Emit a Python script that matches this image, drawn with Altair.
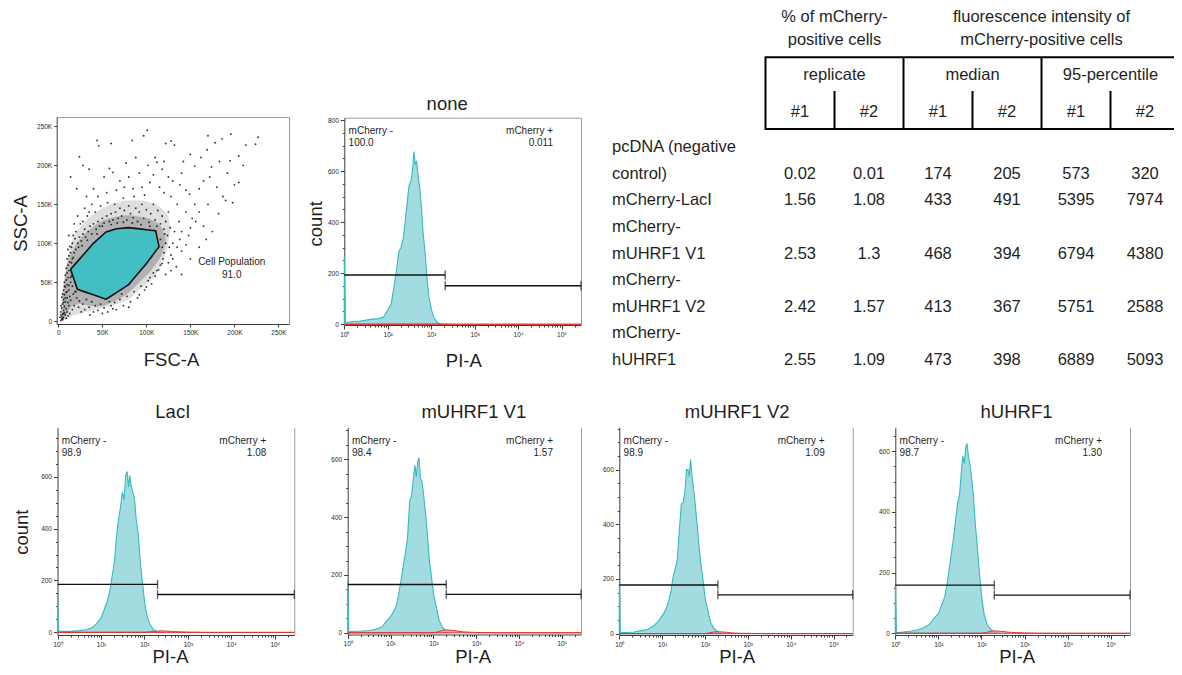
import altair as alt
import pandas as pd

FONT = "Liberation Sans"
INK = "#1f1f1f"
AXC = "#3c3c3c"
FRAME = "#9a9a9a"
CYAN_DOT = "#43bec3"
CYAN_FILL = "#a2dce0"
CYAN_LINE = "#36bac2"
RED_LINE = "#e3342f"
RED_FILL = "#f2a3a3"
W, H, M = 1166, 659, 8

# ======================= DATA =======================
# --- scatter: FSC-A / SSC-A (in thousands) ---
gate_name = "Cell Population"
gate_pct = "91.0"
gate_fsc = [14, 21.6, 30, 39.8, 54.2, 66, 79.5, 90, 100.4, 110.6, 114.4]
gate_lo = [66.7, 41, 37.7, 33.9, 28.2, 36.8, 46.6, 60.6, 74.4, 90, 95.7]
gate_hi = [66.7, 76.5, 87.3, 100, 114.5, 118.6, 120.1, 118.8, 117.4, 116.2, 95.7]

halo_fsc = [3, 8, 12, 16, 25, 36, 47, 62, 78, 93, 108, 119, 125, 127]
halo_lo = [1.5, 2, 4, 7, 10, 13.5, 16.5, 20.5, 27, 41, 57, 78, 100, 115]
halo_hi = [28, 63, 89, 105, 121, 134, 143, 151, 155, 155, 151, 143, 134, 120]

core_fsc = [5, 10, 16, 25, 36, 47, 62, 78, 93, 108, 118, 122]
core_lo = [3, 10, 20, 22, 20, 19, 25, 35, 51, 69, 87, 100]
core_hi = [30, 72, 90, 106, 118, 127, 133, 136, 134, 129, 119, 106]

dots_left = [(3, 1), (4, 3), (5, 2), (4, 6), (6, 5), (5, 9), (3, 12), (6, 14), (4, 17), (7, 19), (5, 22), (8, 25),
             (6, 28), (4, 31), (7, 34), (9, 37), (6, 40), (8, 44), (10, 47), (7, 50), (9, 53), (11, 56), (8, 59),
             (10, 62), (12, 65), (9, 68), (11, 72), (13, 76), (10, 80), (12, 84), (14, 88), (11, 92), (13, 96),
             (16, 100), (6, 10), (8, 8), (10, 12), (12, 20), (10, 30), (12, 40), (14, 50), (15, 58), (13, 32),
             (16, 45), (2, 5), (3, 20), (5, 35), (7, 45), (9, 4), (11, 7), (13, 10), (16, 15), (18, 20), (14, 27),
             (17, 35), (19, 38), (5, 4), (7, 11), (9, 16), (11, 24), (3, 8), (6, 24), (8, 30), (10, 38), (12, 46),
             (14, 56), (16, 62), (18, 70), (15, 75), (17, 82)]
dots_below = [(21, 30), (24, 26), (28, 22), (32, 28), (35, 18), (38, 25), (42, 20), (45, 14), (48, 22), (52, 17),
              (56, 12), (60, 20), (64, 24), (66, 15), (70, 28), (74, 20), (78, 32), (82, 25), (86, 38), (90, 30),
              (94, 45), (98, 40), (102, 52), (106, 48), (20, 38), (23, 18), (30, 15), (40, 12), (58, 25), (72, 35),
              (26, 12), (36, 8), (50, 10), (62, 16), (80, 18), (92, 34), (100, 44), (110, 58), (114, 66), (118, 74)]
dots_above = [(16, 80), (18, 88), (15, 95), (20, 92), (22, 100), (19, 106), (24, 108), (26, 103), (28, 112),
              (31, 108), (30, 118), (34, 115), (36, 122), (38, 112), (40, 125), (43, 118), (45, 128), (47, 122),
              (50, 132), (52, 126), (55, 135), (58, 128), (60, 138), (62, 130), (65, 140), (68, 132), (70, 145),
              (72, 135), (75, 142), (78, 130), (80, 148), (82, 138), (85, 133), (88, 145), (90, 128), (92, 140),
              (95, 150), (97, 132), (100, 143), (103, 127), (105, 138), (108, 150), (110, 130), (113, 142),
              (116, 125), (118, 135), (120, 118), (122, 128), (125, 140), (28, 128), (33, 135), (42, 140),
              (48, 148), (56, 152), (64, 150), (74, 158), (86, 160), (98, 162), (35, 140), (25, 125), (20, 115),
              (17, 110), (23, 95), (27, 97), (33, 104), (44, 112), (50, 122), (60, 124), (67, 126), (74, 127),
              (84, 126), (94, 124), (104, 122), (112, 122)]
dots_right = [(116, 105), (118, 95), (120, 88), (122, 100), (124, 110), (126, 95), (128, 85), (119, 80), (116, 72),
              (112, 65), (108, 62), (104, 56), (125, 75), (130, 100), (132, 115), (135, 95), (127, 120), (121, 112),
              (130, 80), (134, 70), (138, 105), (140, 90), (128, 65), (122, 60)]
dots_outer = [(227, 236), (224, 227), (213, 226), (196, 240), (186, 234), (170, 238), (178, 229), (169, 220),
              (205, 212), (195, 206), (174, 198), (165, 180), (155, 199), (150, 214), (132, 226), (128, 231),
              (122, 228), (101, 245), (97, 238), (84, 232), (60, 228), (44, 232), (46, 225), (24, 211), (28, 200),
              (14, 185), (21, 170), (35, 195), (52, 185), (58, 196), (62, 191), (77, 203), (88, 210), (92, 190),
              (102, 200), (110, 210), (112, 204), (118, 195), (125, 185), (130, 180), (138, 175), (145, 168),
              (142, 205), (149, 163), (160, 170), (172, 185), (180, 172), (190, 155), (182, 138), (170, 150),
              (160, 140), (156, 128), (148, 110), (145, 98), (152, 132), (165, 122), (175, 115), (187, 160),
              (200, 175), (210, 200), (137, 128), (135, 150), (128, 160), (120, 165), (115, 172), (104, 178),
              (95, 172), (85, 170), (75, 172), (66, 168), (55, 165), (45, 160), (38, 150), (30, 145), (22, 135),
              (18, 125), (12, 110), (140, 60), (150, 80), (160, 95), (168, 105), (155, 150), (145, 140), (198, 152),
              (205, 178), (192, 190), (183, 205), (162, 210), (140, 190), (120, 205), (108, 188), (80, 185),
              (70, 180), (40, 170), (32, 160), (140, 115), (150, 120)]
all_dots = dots_left + dots_below + dots_above + dots_right + dots_outer
dot_fsc = [p[0] for p in all_dots]
dot_ssc = [p[1] for p in all_dots]

# --- PI-A histograms ---
panel_titles = ["none", "LacI", "mUHRF1 V1", "mUHRF1 V2", "hUHRF1"]
pi_grid = [1.0, 1.06, 1.5, 2.2, 3.2, 4.5, 6.3, 8, 10, 12, 14, 16, 18, 20, 22.5, 25, 28, 31, 34, 37, 40, 43, 46,
           50, 54, 59, 65, 72, 80, 90, 102, 116, 135, 160, 200, 260]
counts_none = [265, 8, 10, 12, 16, 20, 22, 28, 55, 80, 150, 215, 285, 300, 330, 400, 478, 545, 560, 600, 677,
               625, 640, 580, 540, 470, 360, 285, 180, 100, 55, 25, 8, 2, 0, 0]
counts_laci = [140, 5, 4, 5, 7, 10, 18, 35, 55, 90, 120, 160, 215, 260, 360, 430, 480, 540, 510, 605, 620, 560,
               605, 560, 540, 515, 430, 380, 275, 190, 110, 60, 30, 10, 3, 0]
counts_v1 = [182, 3, 5, 6, 8, 12, 20, 40, 55, 75, 100, 145, 190, 235, 280, 330, 455, 475, 530, 580, 540, 592,
             606, 534, 525, 480, 420, 345, 255, 195, 130, 92, 45, 20, 6, 0]
counts_v2 = [183, 4, 4, 6, 11, 15, 28, 44, 65, 85, 115, 155, 207, 235, 270, 370, 474, 480, 520, 600, 600, 575,
             638, 575, 530, 475, 405, 325, 255, 195, 125, 85, 42, 20, 6, 0]
counts_hu = [154, 2, 4, 7, 11, 18, 30, 50, 65, 95, 120, 165, 215, 265, 315, 370, 430, 458, 530, 585, 560, 610,
             626, 582, 555, 515, 450, 360, 285, 195, 115, 60, 30, 14, 4, 0]
counts = [counts_none, counts_laci, counts_v1, counts_v2, counts_hu]

red_grid = [1, 100, 130, 160, 200, 250, 320, 400, 500, 700, 1000, 3000, 10000, 100000, 280000]
red_none = [0, 0, 0, 0, 0, 0, 0, 0, 0, 0, 0, 0, 0, 0, 0]
red_laci = [0, 0, 2, 4, 5, 6, 5, 4, 3, 2, 1, 0, 0, 0, 0]
red_v1 = [0, 0, 3, 8, 10, 9, 7, 5, 3, 2, 1, 0, 0, 0, 0]
red_v2 = [0, 0, 3, 6, 7, 6, 5, 3, 2, 1, 1, 0, 0, 0, 0]
red_hu = [0, 0, 3, 6, 8, 7, 6, 4, 3, 2, 1, 0, 0, 0, 0]
red_counts = [red_none, red_laci, red_v1, red_v2, red_hu]

gate_names = ["mCherry -", "mCherry +"]
neg_pct = ["100.0", "98.9", "98.4", "98.9", "98.7"]
pos_pct = ["0.011", "1.08", "1.57", "1.09", "1.30"]
gate_split = [210, 200, 200, 200, 198]
neg_level = [193, 185, 167, 178, 159]
pos_level = [151, 146, 133, 142, 126]

# --- table ---
header_groups = ["% of mCherry-\npositive cells", "fluorescence intensity of\nmCherry-positive cells"]
header_group_cols = [(1, 2), (3, 6)]
sub_groups = ["replicate", "median", "95-percentile"]
sub_group_cols = [(1, 2), (3, 4), (5, 6)]
sub_cols = ["#1", "#2", "#1", "#2", "#1", "#2"]
row_labels = ["pcDNA (negative\ncontrol)", "mCherry-LacI", "mCherry-\nmUHRF1 V1", "mCherry-\nmUHRF1 V2",
              "mCherry-\nhUHRF1"]
pct_rep1 = ["0.02", "1.56", "2.53", "2.42", "2.55"]
pct_rep2 = ["0.01", "1.08", "1.3", "1.57", "1.09"]
median_1 = [174, 433, 468, 413, 473]
median_2 = [205, 491, 394, 367, 398]
p95_1 = [573, 5395, 6794, 5751, 6889]
p95_2 = [320, 7974, 4380, 2588, 5093]

# ======================= LAYOUT (page pixels) =======================
SC = dict(x0=56.7, x1=289, yb=324, yt=117, xdom=[-1.8, 262], ydom=[-3.5, 262],
          xtitle=(171, 359), ytitle=(20, 223), label=(197, 82))
BOTTOM_TITLE_Y = 656.0
PANELS = [
    dict(x0=344.3, x1=581.0, yb=325.0, yt=117.7, ymin=-3, ymax=810, top=True,
         title=(446.7, 103.3), xtitle=(463.3, 360), ytitle=(315, 223.3)),
    dict(x0=57.5, x1=294.3, yb=635.0, yt=427.3, ymin=-10, ymax=790, top=False,
         title=(172.3, 411.7), xtitle=(170, BOTTOM_TITLE_Y), ytitle=(21, 531.7)),
    dict(x0=347.7, x1=581.0, yb=634.5, yt=427.3, ymin=-6, ymax=711, top=False,
         title=(473.3, 411.7), xtitle=(472.7, BOTTOM_TITLE_Y), ytitle=None),
    dict(x0=619.3, x1=852.7, yb=635.0, yt=427.3, ymin=-5, ymax=755, top=False,
         title=(736.7, 411.7), xtitle=(736.7, BOTTOM_TITLE_Y), ytitle=None),
    dict(x0=895.3, x1=1130.0, yb=635.0, yt=427.3, ymin=-5.6, ymax=679, top=False,
         title=(1016, 411.7), xtitle=(1016.7, BOTTOM_TITLE_Y), ytitle=None),
]
TITLE_STYLE = dict(titleFontSize=18.5, titleFontWeight="normal", titleColor=INK, titleBaseline="middle",
                   titleAlign="center", titleFont=FONT)
TICK_STYLE = dict(labelFontSize=6.5, labelPadding=2, labelColor=INK, labelFont=FONT, tickColor=AXC,
                  domainColor=AXC, grid=False)

layers = []

# ======================= SCATTER =======================
sx = alt.Scale(domain=SC["xdom"], range=[SC["x0"] - M, SC["x1"] - M], nice=False, zero=False)
sy = alt.Scale(domain=SC["ydom"], range=[SC["yb"] - M, SC["yt"] - M], nice=False, zero=False)
k_ticks = [0, 50, 100, 150, 200, 250]
k_expr = "datum.value == 0 ? '0' : datum.value + 'K'"

halo = alt.Chart(pd.DataFrame({"fsc": halo_fsc, "lo": halo_lo, "hi": halo_hi})).mark_area(
    color="#000000", opacity=0.13, interpolate="monotone").encode(
    x=alt.X("fsc:Q", scale=sx, axis=None), y=alt.Y("lo:Q", scale=sy, axis=None), y2="hi:Q")

core = alt.Chart(pd.DataFrame({"fsc": core_fsc, "lo": core_lo, "hi": core_hi})).mark_area(
    color="#000000", opacity=0.2, interpolate="monotone").encode(
    x=alt.X("fsc:Q", scale=sx, axis=None), y=alt.Y("lo:Q", scale=sy, axis=None), y2="hi:Q")

dots = alt.Chart(pd.DataFrame({"fsc": dot_fsc, "ssc": dot_ssc})).mark_circle(
    size=3.5, color="#111111", opacity=0.85).encode(
    x=alt.X("fsc:Q", scale=sx, axis=alt.Axis(
        orient="bottom", offset=SC["yb"] - M - H, values=k_ticks, labelExpr=k_expr, tickSize=3, labelFlush=False,
        title="FSC-A", titleX=SC["xtitle"][0] - M, titleY=SC["xtitle"][1] - SC["yb"], **TICK_STYLE, **TITLE_STYLE)),
    y=alt.Y("ssc:Q", scale=sy, axis=alt.Axis(
        orient="left", offset=-(SC["x0"] - M), values=k_ticks, labelExpr=k_expr, tickSize=3, labelFlush=False,
        title="SSC-A", titleX=SC["ytitle"][0] - SC["x0"], titleY=SC["ytitle"][1] - M, **TICK_STYLE, **TITLE_STYLE)))

gate = alt.Chart(pd.DataFrame({"fsc": gate_fsc, "lo": gate_lo, "hi": gate_hi})).mark_area(
    fill=CYAN_DOT, fillOpacity=1, stroke="#111111", strokeWidth=1.6, strokeJoin="round").encode(
    x=alt.X("fsc:Q", scale=sx, axis=alt.Axis(orient="top", offset=-(SC["yt"] - M), labels=False, ticks=False,
                                             domainColor=FRAME, grid=False, title=None)),
    y=alt.Y("lo:Q", scale=sy, axis=alt.Axis(orient="right", offset=SC["x1"] - M - W, labels=False, ticks=False,
                                            domainColor=FRAME, grid=False, title=None)),
    y2="hi:Q")

glabel = alt.Chart(pd.DataFrame({"fsc": [SC["label"][0]], "ssc": [SC["label"][1]],
                                 "t": [gate_name + "\n" + gate_pct]})).mark_text(
    align="center", baseline="top", lineBreak="\n", lineHeight=12.3, fontSize=10, font=FONT, color=INK).encode(
    x=alt.X("fsc:Q", scale=sx, axis=None), y=alt.Y("ssc:Q", scale=sy, axis=None), text="t:N")

layers += [halo, core, dots, gate, glabel]

# ======================= HISTOGRAMS =======================
XDOM = [1, 280000]
X_MAJOR = [1, 10, 100, 1000, 10000, 100000]
X_MINOR = [m * 10 ** k for k in range(5) for m in range(2, 10)] + [200000]
SUP = "'10' + ['\u2070','\u00b9','\u00b2','\u00b3','\u2074','\u2075'][round(log(datum.value)/LN10)]"


def hist_layers(i):
    P = PANELS[i]
    xs = alt.Scale(type="log", domain=XDOM, range=[P["x0"] - M, P["x1"] - M], nice=False)
    ys = alt.Scale(domain=[P["ymin"], P["ymax"]], range=[P["yb"] - M, P["yt"] - M], nice=False, zero=False)
    y_major = list(range(0, P["ymax"] + 1, 200))
    y_minor = [v for v in range(50, P["ymax"] + 1, 50) if v % 200]
    xb_off = P["yb"] - M - H
    yl_off = -(P["x0"] - M)

    x_axis = alt.Axis(orient="bottom", offset=xb_off, values=X_MAJOR, labelExpr=SUP, tickSize=4,
                      labelFlush=False, title="PI-A", titleX=P["xtitle"][0] - M,
                      titleY=P["xtitle"][1] - P["yb"], **TICK_STYLE, **TITLE_STYLE)
    if P["ytitle"]:
        y_axis = alt.Axis(orient="left", offset=yl_off, values=y_major, tickSize=4, labelFlush=False,
                          title="count", titleX=P["ytitle"][0] - P["x0"], titleY=P["ytitle"][1] - M,
                          **TICK_STYLE, **TITLE_STYLE)
    else:
        y_axis = alt.Axis(orient="left", offset=yl_off, values=y_major, tickSize=4, labelFlush=False,
                          title=None, **TICK_STYLE)

    area = alt.Chart(pd.DataFrame({"pi": pi_grid, "n": counts[i]})).mark_area(
        fill=CYAN_FILL, fillOpacity=1, stroke=CYAN_LINE, strokeWidth=1.1).encode(
        x=alt.X("pi:Q", scale=xs, axis=x_axis), y=alt.Y("n:Q", scale=ys, axis=y_axis))

    red = alt.Chart(pd.DataFrame({"pi": red_grid, "n": red_counts[i]})).mark_area(
        fill=RED_FILL, fillOpacity=0.8, stroke=RED_LINE, strokeWidth=1).encode(
        x=alt.X("pi:Q", scale=xs, axis=alt.Axis(orient="bottom", offset=xb_off, values=X_MINOR, labels=False,
                                                domain=False, tickSize=2, tickColor=AXC, grid=False, title=None)),
        y=alt.Y("n:Q", scale=ys, axis=alt.Axis(orient="left", offset=yl_off, values=y_minor, labels=False,
                                               domain=False, tickSize=2, tickColor=AXC, grid=False, title=None)))

    gdf = pd.DataFrame({"a": [XDOM[0], gate_split[i]], "b": [gate_split[i], XDOM[1]],
                        "lvl": [neg_level[i], pos_level[i]]})
    top_axis = alt.Axis(orient="top", offset=-(P["yt"] - M), labels=False, ticks=False, domain=P["top"],
                        domainColor=FRAME, grid=False, title=panel_titles[i], titleX=P["title"][0] - M,
                        titleY=P["title"][1] - P["yt"], **TITLE_STYLE)
    right_axis = alt.Axis(orient="right", offset=P["x1"] - M - W, labels=False, ticks=False,
                          domainColor=FRAME, grid=False, title=None)
    rules = alt.Chart(gdf).mark_rule(color="#111111", strokeWidth=1.3).encode(
        x=alt.X("a:Q", scale=xs, axis=top_axis), x2="b:Q",
        y=alt.Y("lvl:Q", scale=ys, axis=right_axis))

    tdf = pd.DataFrame({"x": [gate_split[i], gate_split[i], XDOM[1]],
                        "lvl": [neg_level[i], pos_level[i], pos_level[i]]})
    ticks = alt.Chart(tdf).mark_tick(orient="vertical", size=9, thickness=1.3, color="#111111").encode(
        x=alt.X("x:Q", scale=xs, axis=None), y=alt.Y("lvl:Q", scale=ys, axis=None))

    txt_y = P["yt"] - M + 8.7
    left_txt = alt.Chart(pd.DataFrame({"x": [XDOM[0]], "t": [gate_names[0] + "\n" + neg_pct[i]]})).mark_text(
        align="left", baseline="top", lineBreak="\n", lineHeight=11.5, fontSize=10, font=FONT, color=INK,
        dx=4.3).encode(x=alt.X("x:Q", scale=xs, axis=None), y=alt.value(txt_y), text="t:N")
    right_txt = alt.Chart(pd.DataFrame({"x": [XDOM[1]], "t": [gate_names[1] + "\n" + pos_pct[i]]})).mark_text(
        align="right", baseline="top", lineBreak="\n", lineHeight=11.5, fontSize=10, font=FONT, color=INK,
        dx=-28).encode(x=alt.X("x:Q", scale=xs, axis=None), y=alt.value(txt_y), text="t:N")
    return [area, red, rules, ticks, left_txt, right_txt]


for i in range(len(panel_titles)):
    layers += hist_layers(i)

# ======================= TABLE =======================
tx = alt.Scale(domain=[0.5, len(sub_cols) + 0.5], range=[765.5 - M, 1179.5 - M], nice=False, zero=False)
ty = alt.Scale(domain=[0, 8], range=[147 - M, 360 - M], nice=False, zero=False)
TXT = dict(font=FONT, fontSize=16.5, color=INK)

hg_df = pd.DataFrame({"c": [(a + b) / 2 for a, b in header_group_cols], "t": header_groups})
t_head = alt.Chart(hg_df).mark_text(baseline="top", lineBreak="\n", lineHeight=23.3, **TXT).encode(
    x=alt.X("c:Q", scale=tx, axis=None), y=alt.value(8.8 - M), text="t:N")

sg_df = pd.DataFrame({"c": [(a + b) / 2 for a, b in sub_group_cols], "t": sub_groups})
t_sub = alt.Chart(sg_df).mark_text(baseline="middle", **TXT).encode(
    x=alt.X("c:Q", scale=tx, axis=None), y=alt.value(75 - M), text="t:N")

sc_df = pd.DataFrame({"c": list(range(1, len(sub_cols) + 1)), "t": sub_cols})
t_cols = alt.Chart(sc_df).mark_text(baseline="middle", **TXT).encode(
    x=alt.X("c:Q", scale=tx, axis=None), y=alt.value(111.7 - M), text="t:N")

box = alt.Chart(pd.DataFrame({"a": [0.5], "b": [len(sub_cols) + 0.5]})).mark_rect(
    fillOpacity=0, stroke="#000000", strokeWidth=2).encode(
    x=alt.X("a:Q", scale=tx, axis=None), x2="b:Q", y=alt.value(57.3 - M), y2=alt.value(129 - M))

major_div = [b + 0.5 for a, b in sub_group_cols[:-1]]
minor_div = [a + 0.5 for a, b in sub_group_cols]
div_major = alt.Chart(pd.DataFrame({"c": major_div})).mark_rule(color="#000000", strokeWidth=2).encode(
    x=alt.X("c:Q", scale=tx, axis=None), y=alt.value(57.3 - M), y2=alt.value(129 - M))
div_minor = alt.Chart(pd.DataFrame({"c": minor_div})).mark_rule(color="#000000", strokeWidth=2).encode(
    x=alt.X("c:Q", scale=tx, axis=None), y=alt.value(91 - M), y2=alt.value(129 - M))

label_lines = [lab.split("\n") for lab in row_labels]
line_idx = []
cur = -1
for lines in label_lines:
    cur += len(lines)
    line_idx.append(cur)
lab_rows = []
for lines, li in zip(label_lines, line_idx):
    for j, s in enumerate(lines):
        lab_rows.append({"ln": li - (len(lines) - 1 - j), "t": s})
t_labels = alt.Chart(pd.DataFrame(lab_rows)).mark_text(align="left", baseline="middle", **TXT).encode(
    x=alt.value(612 - M), y=alt.Y("ln:Q", scale=ty, axis=None), text="t:N")

num_cols = [pct_rep1, pct_rep2, median_1, median_2, p95_1, p95_2]
num_rows = []
for c, col in enumerate(num_cols, start=1):
    for r, v in enumerate(col):
        num_rows.append({"c": c, "ln": line_idx[r], "t": str(v)})
t_nums = alt.Chart(pd.DataFrame(num_rows)).mark_text(baseline="middle", **TXT).encode(
    x=alt.X("c:Q", scale=tx, axis=None), y=alt.Y("ln:Q", scale=ty, axis=None), text="t:N")

layers += [box, div_major, div_minor, t_head, t_sub, t_cols, t_labels, t_nums]

chart = alt.layer(*layers).resolve_scale(x="independent", y="independent").resolve_axis(
    x="independent", y="independent").properties(
    width=W, height=H, padding=0, autosize=alt.AutoSizeParams(type="none")).configure_view(
    strokeWidth=0).configure_axis(labelFont=FONT, titleFont=FONT).configure_text(font=FONT)

chart.save("out.html", embed_options={"renderer": "svg", "actions": False})
